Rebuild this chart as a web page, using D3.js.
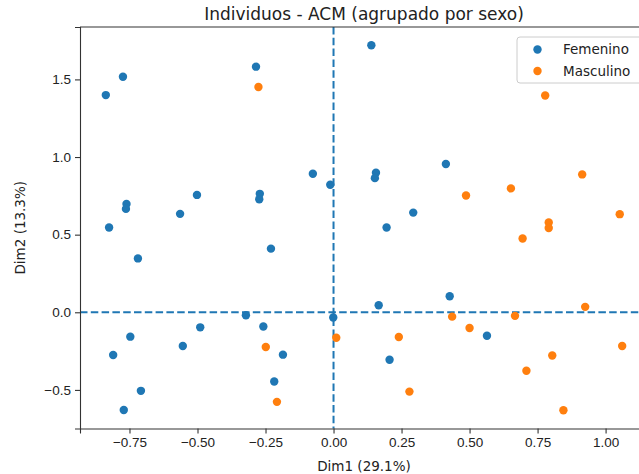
<!DOCTYPE html>
<html>
<head>
<meta charset="utf-8">
<script src="https://cdn.jsdelivr.net/npm/d3@7"></script>
<style>
  html, body { margin: 0; padding: 0; background: #fff; }
  svg { display: block; font-family: "DejaVu Sans", sans-serif; }
</style>
</head>
<body>
<div id="chart"></div>
<script>
// Femenino
var femX = [-0.837, -0.774, -0.285, -0.076, -0.761, -0.763, -0.825, -0.564, -0.502, -0.271, -0.273,
            0.139, 0.413, 0.156, 0.152, -0.012, 0.293, 0.195,
            -0.719, -0.230, -0.322, -0.490, -0.258, -0.747, -0.554, -0.810, -0.186, -0.218, -0.708, -0.771,
            0.427, 0.166, -0.001, 0.564, 0.206];
var femY = [1.399, 1.517, 1.582, 0.892, 0.698, 0.666, 0.546, 0.634, 0.756, 0.763, 0.728,
            1.720, 0.955, 0.899, 0.864, 0.821, 0.642, 0.546,
            0.347, 0.410, -0.019, -0.097, -0.092, -0.157, -0.217, -0.275, -0.273, -0.446, -0.506, -0.629,
            0.103, 0.045, -0.034, -0.151, -0.306];
// Masculino
var mascX = [-0.276, 0.778, 0.914, 0.652, 0.487, 1.052, 0.791, 0.791, 0.695,
             -0.249, -0.208,
             0.925, 0.436, 0.667, 0.500, 0.010, 0.240, 1.061, 0.804, 0.709, 0.279, 0.845];
var mascY = [1.451, 1.396, 0.888, 0.798, 0.752, 0.632, 0.578, 0.543, 0.475,
             -0.224, -0.577,
             0.035, -0.028, -0.023, -0.101, -0.164, -0.159, -0.217, -0.278, -0.377, -0.511, -0.631];

var groups = ['Femenino', 'Masculino'];
var colors = ['#1f77b4', '#ff7f0e'];
var xTicks = [-0.75, -0.50, -0.25, 0.00, 0.25, 0.50, 0.75, 1.00];
var yTicks = [-0.5, 0.0, 0.5, 1.0, 1.5];

var width = 639, height = 474;
var mLeft = 80, mRight = 648, mTop = 27, mBottom = 428.5;

var series = [
  femX.map(function(d, i) { return { x: d, y: femY[i], g: 0 }; }),
  mascX.map(function(d, i) { return { x: d, y: mascY[i], g: 1 }; })
];
var all = series[0].concat(series[1]);

function padded(ext) {
  var p = (ext[1] - ext[0]) * 0.05;
  return [ext[0] - p, ext[1] + p];
}

var x = d3.scaleLinear()
  .domain(padded(d3.extent(all, function(d) { return d.x; })))
  .range([mLeft, mRight]);
var y = d3.scaleLinear()
  .domain(padded(d3.extent(all, function(d) { return d.y; })))
  .range([mBottom, mTop]);

var svg = d3.select('#chart').append('svg')
  .attr('width', width)
  .attr('height', height);

// dashed reference lines
svg.append('line')
  .attr('x1', mLeft).attr('x2', mRight)
  .attr('y1', y(0)).attr('y2', y(0))
  .attr('stroke', '#1f77b4').attr('stroke-width', 2)
  .attr('stroke-dasharray', '7.5,3.3');
svg.append('line')
  .attr('x1', x(0)).attr('x2', x(0))
  .attr('y1', mTop).attr('y2', mBottom)
  .attr('stroke', '#1f77b4').attr('stroke-width', 2)
  .attr('stroke-dasharray', '7.5,3.3');

// points
series.forEach(function(s, k) {
  svg.append('g').selectAll('circle')
    .data(s)
    .enter()
    .append('circle')
    .attr('cx', function(d) { return x(d.x); })
    .attr('cy', function(d) { return y(d.y); })
    .attr('r', 4.2)
    .attr('fill', colors[k]);
});

// axes
var fmtX = function(d) { return d3.format('.2f')(d).replace('-', '\u2212'); };
var fmtY = function(d) { return d3.format('.1f')(d).replace('-', '\u2212'); };

var gx = svg.append('g')
  .attr('transform', 'translate(0,' + mBottom + ')')
  .call(d3.axisBottom(x).tickValues(xTicks).tickFormat(fmtX).tickSizeOuter(0).tickSize(5).tickPadding(4));
var gy = svg.append('g')
  .attr('transform', 'translate(' + mLeft + ',0)')
  .call(d3.axisLeft(y).tickValues(yTicks).tickFormat(fmtY).tickSizeOuter(0).tickSize(5).tickPadding(4));

[gx, gy].forEach(function(g) {
  g.select('.domain').attr('stroke', '#333').attr('stroke-width', 1.1);
  g.selectAll('.tick line').attr('stroke', '#333').attr('stroke-width', 1.1);
  g.selectAll('.tick text').attr('fill', '#222').style('font-size', '13.5px');
});

// top spine
svg.append('line')
  .attr('x1', mLeft).attr('x2', mRight)
  .attr('y1', mTop).attr('y2', mTop)
  .attr('stroke', '#333').attr('stroke-width', 1.1);

// title and labels
svg.append('text')
  .attr('x', (mLeft + mRight) / 2).attr('y', 20)
  .attr('text-anchor', 'middle')
  .attr('fill', '#222')
  .style('font-size', '17px')
  .text('Individuos - ACM (agrupado por sexo)');

svg.append('text')
  .attr('x', (mLeft + mRight) / 2).attr('y', 471)
  .attr('text-anchor', 'middle')
  .attr('fill', '#222')
  .style('font-size', '13.5px')
  .text('Dim1 (29.1%)');

svg.append('text')
  .attr('transform', 'translate(25,' + (mTop + mBottom) / 2 + ') rotate(-90)')
  .attr('text-anchor', 'middle')
  .attr('fill', '#222')
  .style('font-size', '13.5px')
  .text('Dim2 (13.3%)');

// legend
var leg = svg.append('g').attr('transform', 'translate(517,37)');
leg.append('rect')
  .attr('width', 140).attr('height', 46)
  .attr('rx', 3)
  .attr('fill', '#fff').attr('fill-opacity', 0.8)
  .attr('stroke', '#ccc');
groups.forEach(function(name, i) {
  leg.append('circle')
    .attr('cx', 20.5).attr('cy', 12.5 + i * 21.5)
    .attr('r', 4.2)
    .attr('fill', colors[i]);
  leg.append('text')
    .attr('x', 46).attr('y', 12.5 + i * 21.5)
    .attr('dy', '0.35em')
    .attr('fill', '#222')
    .style('font-size', '13.5px')
    .text(name);
});
</script>
</body>
</html>
